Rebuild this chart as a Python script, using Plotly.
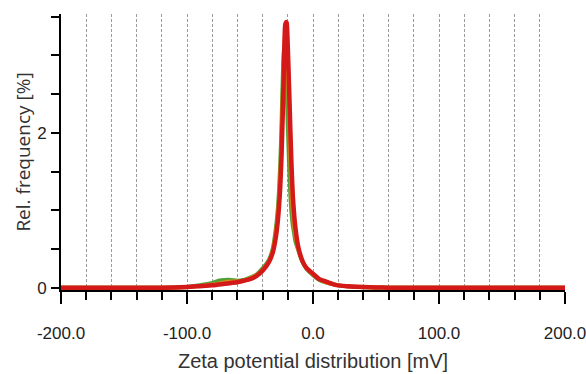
import plotly.graph_objects as go

# Zeta potential (mV)
zeta_mv = [-200, -120, -100, -90, -80, -75, -70, -65, -60, -55, -50, -45, -40, -35, -32, -30,
           -28, -26, -25, -24, -23, -22, -21, -20, -19, -18, -17, -16, -15, -14, -12, -10,
           -8, -5, 0, 5, 10, 15, 20, 30, 40, 50, 60, 200]

# Relative frequency (%) per measurement
freq_green = [0, 0, 0.01, 0.03, 0.06, 0.09, 0.10, 0.10, 0.09, 0.10, 0.13, 0.17, 0.25, 0.36, 0.50, 0.70,
              1.00, 1.60, 2.10, 2.70, 3.08, 3.10, 2.60, 2.10, 1.60, 1.20, 0.95, 0.80, 0.70, 0.60, 0.50, 0.40,
              0.32, 0.24, 0.16, 0.10, 0.07, 0.05, 0.03, 0.015, 0.007, 0.003, 0, 0]
freq_orange = [0, 0, 0.01, 0.02, 0.04, 0.05, 0.07, 0.08, 0.08, 0.09, 0.12, 0.16, 0.23, 0.34, 0.47, 0.65,
               0.92, 1.45, 1.90, 2.50, 3.00, 3.28, 3.20, 2.80, 2.20, 1.65, 1.20, 0.95, 0.80, 0.68, 0.52, 0.41,
               0.33, 0.25, 0.17, 0.11, 0.07, 0.05, 0.03, 0.015, 0.008, 0.003, 0, 0]
freq_red = [0, 0, 0.01, 0.02, 0.03, 0.04, 0.05, 0.06, 0.07, 0.09, 0.11, 0.15, 0.22, 0.33, 0.45, 0.60,
            0.85, 1.30, 1.70, 2.25, 2.90, 3.40, 3.43, 3.10, 2.60, 2.05, 1.55, 1.18, 0.95, 0.78, 0.55, 0.42,
            0.33, 0.25, 0.18, 0.11, 0.08, 0.05, 0.03, 0.015, 0.008, 0.003, 0, 0]

x_tick_vals = [-200, -100, 0, 100, 200]
x_tick_text = ["-200.0", "-100.0", "0.0", "100.0", "200.0"]
y_tick_vals = [0, 2]
y_tick_text = ["0", "2"]

series = [
    ("green", freq_green, "rgba(70,155,45,0.95)", 4),
    ("orange", freq_orange, "rgba(225,140,20,0.9)", 4),
    ("red", freq_red, "rgb(212,25,25)", 4.5),
]

fig = go.Figure()
for name, ys, color, w in series:
    fig.add_trace(go.Scatter(x=zeta_mv, y=ys, mode="lines", name=name,
                             line=dict(color=color, width=w, shape="spline", smoothing=0.5),
                             showlegend=False))

tick_font = dict(family="Liberation Sans Narrow, Arial Narrow, sans-serif", size=17, color="#222")
grid_dash = "3px,2px"

fig.update_layout(
    width=586, height=374,
    margin=dict(l=61, r=21, t=14, b=84),
    plot_bgcolor="white", paper_bgcolor="white",
    xaxis=dict(
        range=[-200.001, 200.001], automargin=False,
        tickvals=x_tick_vals, ticktext=x_tick_text, ticklabeloverflow="allow",
        ticks="outside", ticklen=12, tickwidth=2, tickcolor="black",
        tickfont=tick_font, ticklabelstandoff=15,
        showline=True, linecolor="black", linewidth=2,
        showgrid=True, gridcolor="#9a9a9a", gridwidth=1, griddash=grid_dash,
        zeroline=False,
        minor=dict(dtick=20, tick0=-200, ticks="outside", ticklen=8, tickwidth=2, tickcolor="black",
                   showgrid=True, gridcolor="#9a9a9a", gridwidth=1, griddash=grid_dash),
        title=dict(text="Zeta potential distribution [mV]",
                   font=dict(family="Liberation Sans Narrow, Arial Narrow, sans-serif", size=20, color="#333"),
                   standoff=12),
    ),
    yaxis=dict(
        range=[-0.03, 3.535], automargin=False,
        tickvals=y_tick_vals, ticktext=y_tick_text,
        ticks="outside", ticklen=8, tickwidth=2, tickcolor="black",
        tickfont=tick_font, ticklabelstandoff=1,
        showline=True, linecolor="black", linewidth=2,
        showgrid=False, zeroline=False,
        minor=dict(dtick=0.5, tick0=0, ticks="outside", ticklen=8, tickwidth=2, tickcolor="black",
                   showgrid=False),
        title=dict(text="Rel. frequency [%]",
                   font=dict(family="Open Sans, sans-serif", size=19, color="#333"),
                   standoff=1),
    ),
)

fig.write_html("out.html")
